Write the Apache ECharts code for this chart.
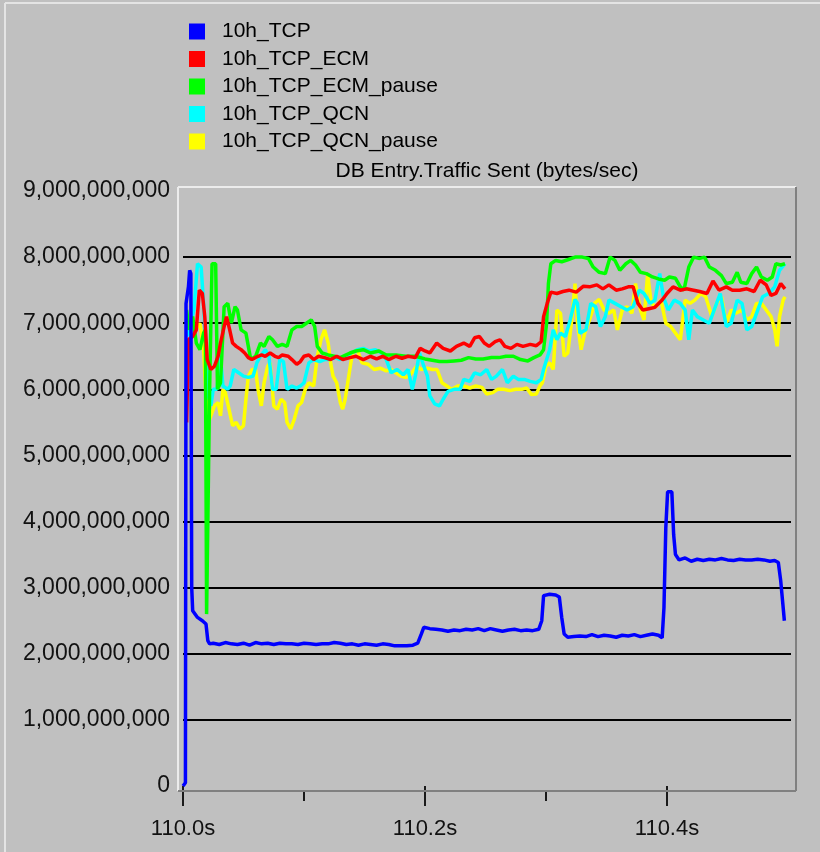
<!DOCTYPE html>
<html>
<head>
<meta charset="utf-8">
<script src="https://cdn.jsdelivr.net/npm/echarts@6/dist/echarts.min.js"></script>
<style>
  html,body{margin:0;padding:0;background:#C0C0C0;}
  #chart{width:820px;height:852px;}
</style>
</head>
<body>
<div id="chart"></div>
<script>
'use strict';

/* ---------- data: time offset after 110.0s in ms, values in 1e9 bytes/sec ---------- */
const NAMES = ['10h_TCP','10h_TCP_ECM','10h_TCP_ECM_pause','10h_TCP_QCN','10h_TCP_QCN_pause'];
const COLORS = ['#0000FF','#FF0000','#00FF00','#00FFFF','#FFFF00'];
const X_TICKS = [110.0, 110.2, 110.4];
const X_MINOR = [110.1, 110.3];

const T_TCP = [0,2,2.5,4.5,5.5,6.5,7.2,8,12,16,19,20.5,22,25,30,35,40,45,50,55,60,65,70,75,80,85,90,95,100,105,110,115,120,125,130,135,140,145,150,155,160,165,170,175,180,185,190,194,197,199,204,209,214,219,224,229,234,239,244,249,254,259,264,269,274,279,284,289,294,296.5,298,303,308,311,313,315,318,323,328,333,338,343,348,353,358,363,368,373,378,383,388,393,396,397.5,399,400.5,404,405.5,407,410,415,420,425,430,435,440,445,450,455,460,465,470,475,480,485,489,492,494,495.5,497];
const V_TCP = [0,0.05,7.3,7.55,7.8,7.75,3.0,2.65,2.55,2.5,2.45,2.2,2.15,2.16,2.14,2.17,2.15,2.14,2.16,2.13,2.17,2.15,2.16,2.14,2.16,2.15,2.15,2.14,2.16,2.15,2.14,2.15,2.15,2.17,2.16,2.14,2.15,2.13,2.15,2.14,2.13,2.15,2.14,2.12,2.12,2.12,2.13,2.16,2.3,2.4,2.38,2.37,2.36,2.34,2.36,2.35,2.37,2.36,2.38,2.35,2.38,2.36,2.34,2.36,2.37,2.35,2.36,2.35,2.37,2.5,2.88,2.9,2.89,2.86,2.55,2.3,2.25,2.26,2.27,2.26,2.29,2.26,2.28,2.27,2.25,2.28,2.27,2.29,2.26,2.28,2.3,2.28,2.24,2.7,3.9,4.45,4.45,3.8,3.5,3.42,3.45,3.4,3.43,3.41,3.43,3.42,3.44,3.42,3.41,3.43,3.42,3.42,3.43,3.42,3.4,3.41,3.38,3.1,2.8,2.5];

const T_ECM = [3,4.5,8,11,13.5,16,18,20,23,26,29,31,34,36,38.6,41,44,48,51,54,57,62,65,68,72,76,79,82,87,90,94,97,100,104,108,112,117,122,127,132,138,143,149,155,160,165,170,176,181,186,192,196,200,204,209.7,215,221,226,232,237,241,245,249,253,258,262,266,271,276,281,287,292,296,298,301,304,309,314,319,325,331,336,342,347,352,358,363,368,372,376,380,385,390,396,400,405,411,416,422,427,433,438,443,449,454,460,466,472,477,482,486,490,494,497.5];
const V_ECM = [5.5,6.75,6.8,6.9,7.5,7.45,7.1,6.45,6.3,6.35,6.5,6.7,6.95,7.1,6.9,6.7,6.65,6.6,6.55,6.48,6.45,6.5,6.52,6.5,6.55,6.5,6.48,6.52,6.5,6.45,6.38,6.42,6.5,6.52,6.45,6.5,6.48,6.45,6.5,6.45,6.48,6.5,6.45,6.5,6.46,6.5,6.45,6.5,6.47,6.5,6.48,6.62,6.58,6.55,6.7,6.62,6.58,6.65,6.7,6.65,6.78,6.8,6.7,6.65,6.72,6.75,6.65,6.62,6.68,6.65,6.68,6.66,6.72,7.1,7.3,7.47,7.45,7.48,7.5,7.47,7.56,7.55,7.58,7.52,7.58,7.5,7.52,7.55,7.55,7.3,7.2,7.22,7.24,7.35,7.45,7.55,7.5,7.52,7.5,7.48,7.45,7.64,7.5,7.55,7.5,7.5,7.52,7.48,7.65,7.58,7.42,7.45,7.6,7.52];

const T_ECMP = [3,5,8,11,14,17,18.5,19.5,21,22,24,27,28.5,31,34,37,40,43,45,48,52,56,60,64,67,71,74,78,82,86,90,94,98,102,106,108.8,111,115,120,125,130,138,143,149,155,162,168,176,184,192,200,206,212,218,224,230,236,242,248,255,261,267,273,279,285,290,295,298,300.5,302,304,308,313,318,324,330,335,339,344,349,353,357,361,366,370,374,378,383,388,393,398,402,407,411,414,418,422,427,431,435,440,445,449,454,458,461,466,470,474,478,483,487,490,494,497.5];
const V_ECMP = [7.2,6.9,7.1,6.7,6.6,6.85,6.9,2.6,2.6,6.0,7.9,7.9,6.0,6.1,7.25,7.3,7.0,7.25,7.2,6.9,6.85,6.45,6.5,6.7,6.65,6.8,6.75,6.65,6.68,6.65,6.9,6.95,6.95,7.0,7.05,6.95,6.65,6.55,6.52,6.5,6.48,6.55,6.58,6.6,6.55,6.58,6.52,6.52,6.5,6.5,6.46,6.44,6.42,6.42,6.43,6.44,6.48,6.46,6.46,6.48,6.48,6.5,6.5,6.45,6.43,6.48,6.52,6.6,7.0,7.6,7.9,7.95,7.93,7.96,8.0,8.0,7.98,7.85,7.77,7.75,8.0,7.95,7.8,7.9,7.95,7.88,7.77,7.75,7.7,7.67,7.65,7.7,7.68,7.55,7.5,7.85,8.0,7.98,8.0,7.85,7.8,7.72,7.6,7.62,7.77,7.62,7.6,7.75,7.85,7.7,7.65,7.7,7.9,7.88,7.9];

const T_QCN = [4,9,12,15,17,19,21,23,25,28,31,33,37,39,42,46,50,54,58,61,64,68,71,74,77,80,83,86,90,94,97,100,104,108,113,117,121,126,130,135,139,144,149,154,159,164,168,172,177,182,186,189.5,192,195.5,199,202,204,208,212,215,219,224,229,232,237,241,246,251,255,259,264,268,273,277,282,287,292,296,298,300.5,303,306,309,312,316,320,324,326,328,333,337,341,345,349,352,357,362,367,372,377,381,386,390,394,397,401,406,411,415,418,421,425,430,435,440,444,449,453,458,462,466,470,474,479,484,489,493,497.5];
const V_QCN = [6.8,7.2,7.9,7.85,7.3,6.6,5.9,5.75,6.0,6.0,6.5,6.05,6.0,6.05,6.3,6.25,6.2,6.18,6.2,6.4,6.5,6.6,6.5,6.0,6.0,6.45,6.42,6.0,6.05,6.02,6.05,6.1,6.4,6.45,6.42,6.45,6.45,6.48,6.45,6.5,6.55,6.6,6.62,6.58,6.6,6.55,6.45,6.25,6.3,6.22,6.3,6.0,6.2,6.55,6.35,6.2,5.9,5.78,5.75,5.85,5.97,6.0,6.0,6.15,6.12,6.25,6.22,6.3,6.15,6.2,6.3,6.1,6.2,6.15,6.15,6.12,6.1,6.15,6.3,6.45,6.6,6.9,6.75,6.85,6.8,7.05,7.36,7.3,6.85,6.9,7.3,7.25,6.95,7.1,7.35,7.3,7.25,7.2,7.25,7.5,7.45,7.3,7.35,7.75,7.4,7.2,7.35,7.3,7.2,6.75,7.2,7.1,7.05,7.0,7.25,7.45,6.95,7.0,7.35,7.3,6.9,6.95,7.15,7.4,7.45,7.55,7.8,7.9];

const T_QCNP = [3,6,10,14,17,19,21,23,26,29,31,33,35,38,41,44,47,50,52,54,57,60,62,64.7,67,70,72,75,78,81,84,86,89,92,95,98,101,104,108,111,114,117,120,122,124,127,130,132,134,137,140,144,148,153,158,163,168,172,176,180,184,188,193,197,202,206,210,214,218,222,227,232,237,242,247,251,256,260,265,270,275,280,284,288,292,295,297,300,303,306,309,312,315,318,321,324,326,329,332,336,340,344,348,352,356,359,363,367,371,374,378,381,384,387,391,395,399,403,407,411,415,419,423,428,432,437,441,445,449,453,457,462,466,470,474,478,482,486,489,491,493,496,497.5];
const V_QCNP = [7.0,7.1,6.9,7.0,6.6,5.9,5.5,5.6,5.75,5.8,5.6,6.0,5.95,5.7,5.45,5.5,5.4,5.45,5.85,6.2,6.3,6.3,6.0,5.75,6.1,6.35,6.4,5.75,5.7,5.85,5.8,5.5,5.4,5.55,5.75,5.8,6.0,6.1,6.05,6.5,6.75,6.9,6.7,6.4,6.2,6.1,5.8,5.7,5.85,6.2,6.55,6.6,6.4,6.38,6.3,6.32,6.28,6.3,6.25,6.2,6.18,6.22,6.35,6.3,6.32,6.3,6.3,6.1,6.05,6.0,6.05,6.05,6.02,6.05,6.03,5.93,5.95,6.0,6.0,5.98,6.0,6.0,6.02,5.92,5.93,6.05,6.1,6.35,6.4,6.3,7.2,7.15,6.5,6.55,7.0,7.6,7.0,6.6,6.85,7.05,7.3,7.36,7.2,7.15,7.2,6.9,7.2,7.25,7.15,7.6,7.2,7.05,7.75,7.3,7.25,7.35,7.0,6.95,6.85,6.75,7.35,7.3,7.35,7.45,7.4,7.1,7.3,7.4,7.0,7.2,7.15,7.2,7.05,7.1,7.3,7.3,7.2,7.1,6.9,6.65,7.1,7.35,7.4];

/* ---------- layout ---------- */
const FONT = '"Liberation Sans", Arial, sans-serif';
const G = {left:183, top:191, right:29, bottom:66};          // data area: 110.0s / 9e9 corner
const FRAME = {x0:178, y0:187, x1:796, y1:791};               // sunken plot frame
const X_MAX = 110 + (820 - G.right - G.left) / 1210;         // 1210 px per second

const pts = (T,V) => T.map((t,i)=>[110 + t/1000, V[i]*1e9]);
const SERIES_DATA = [pts(T_TCP,V_TCP), pts(T_ECM,V_ECM), pts(T_ECMP,V_ECMP), pts(T_QCN,V_QCN), pts(T_QCNP,V_QCNP)];
const Z = [6,5,4,3,2];

const chart = echarts.init(document.getElementById('chart'), null, {renderer:'canvas'});

const frameLine = (x1,y1,x2,y2,color) => ({type:'line', silent:true, z:10,
  shape:{x1,y1,x2,y2}, style:{stroke:color, lineWidth:2}});

chart.setOption({
  backgroundColor:'#C0C0C0',
  animation:false,
  textStyle:{fontFamily:FONT},
  title:{
    text:'DB Entry.Traffic Sent (bytes/sec)',
    left:(FRAME.x0+FRAME.x1)/2, top:161, textAlign:'center', padding:0,
    textStyle:{fontFamily:FONT, fontSize:21, fontWeight:'normal', color:'#000'},
  },
  legend:{
    orient:'vertical', left:189, top:21, padding:0,
    itemWidth:16, itemHeight:16, itemGap:6.5, icon:'rect',
    data:NAMES,
    textStyle:{fontFamily:FONT, fontSize:21, color:'#000', padding:[0,0,0,12]},
  },
  grid:{left:G.left, top:G.top, right:G.right, bottom:G.bottom},
  xAxis:[
    {type:'value', position:'bottom', min:110, max:X_MAX, offset:5,
     axisLine:{show:false}, splitLine:{show:false},
     axisTick:{customValues:X_TICKS, length:20, lineStyle:{color:'#1A1A1A', width:2}},
     axisLabel:{customValues:X_TICKS, margin:27, fontFamily:FONT, fontSize:22, color:'#111',
       formatter:v=>v.toFixed(1)+'s'}},
    {type:'value', position:'bottom', min:110, max:X_MAX, offset:5,
     axisLine:{show:false}, splitLine:{show:false}, axisLabel:{show:false},
     axisTick:{customValues:X_MINOR, length:10, lineStyle:{color:'#1A1A1A', width:2}}},
  ],
  yAxis:{
    type:'value', min:0, max:9e9, interval:1e9, offset:5,
    axisLine:{show:false}, axisTick:{show:false},
    axisLabel:{margin:8, fontFamily:FONT, fontSize:23, color:'#111',
      formatter:v=>Math.round(v).toLocaleString('en-US')},
    splitLine:{show:true, showMinLine:false, showMaxLine:false, lineStyle:{color:'#000', width:2}},
  },
  series:NAMES.map((name,i)=>({
    name, type:'line', data:SERIES_DATA[i], xAxisIndex:0,
    showSymbol:false, symbol:'none', z:Z[i],
    lineStyle:{color:COLORS[i], width:3.5}, itemStyle:{color:COLORS[i]},
  })),
  graphic:[
    frameLine(5,3,820,3,'#E4E4E4'),
    frameLine(5,3,5,852,'#E4E4E4'),
    frameLine(FRAME.x0,FRAME.y0,FRAME.x1,FRAME.y0,'#ECECEC'),
    frameLine(FRAME.x0,FRAME.y0,FRAME.x0,FRAME.y1,'#ECECEC'),
    frameLine(FRAME.x0,FRAME.y1,FRAME.x1,FRAME.y1,'#808080'),
    frameLine(FRAME.x1,FRAME.y0,FRAME.x1,FRAME.y1,'#808080'),
  ],
});
</script>
</body>
</html>
